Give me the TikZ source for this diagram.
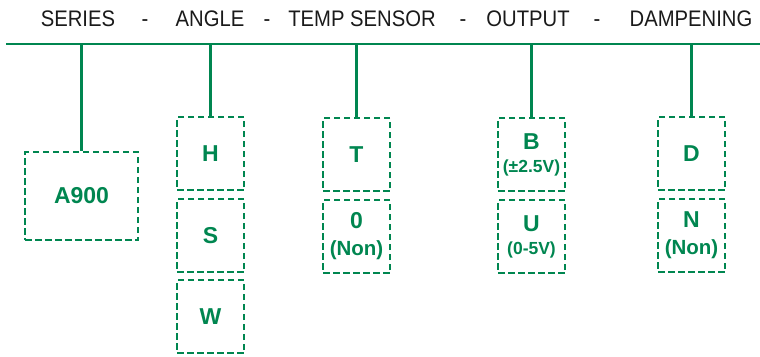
\documentclass[tikz,border=0pt]{standalone}
\usepackage{fontspec}
\setmainfont{Liberation Sans}
\newfontfamily\hdrfont[FakeStretch=0.9]{Liberation Sans}

\definecolor{pgreen}{RGB}{0,134,80}
\definecolor{hdrink}{RGB}{26,26,26}

\newcommand{\subsm}{\fontsize{17.5}{18}\selectfont}
\newcommand{\subbig}{\fontsize{20.5}{22}\selectfont}

\tikzset{
  optbox/.style={draw=pgreen, line width=2.6pt, dash pattern=on 6.5pt off 3.5pt,
    text=pgreen, font=\bfseries\fontsize{23}{24}\selectfont, align=center,
    minimum width=67pt, minimum height=73pt, inner sep=0pt},
  hdr/.style={font=\hdrfont\fontsize{22.5}{24}\selectfont, text=hdrink, anchor=base, inner sep=0pt},
  drop/.style={pgreen, line width=2.4pt},
}

\begin{document}
\begin{tikzpicture}[x=1pt, y=-1pt]
  \useasboundingbox (0,0) rectangle (760,356);

  % --- header: field names and separators ---
  \foreach \x/\n/\t in {78/ser/SERIES, 210/ang/ANGLE, 362/tmp/TEMP SENSOR,
    528/out/OUTPUT, 691/dmp/DAMPENING}
    \node[hdr] (\n) at (\x,26) {\t};
  \foreach \x [count=\i] in {145,267,463,597}
    \node[hdr] (dash\i) at (\x,26) {-};
  \coordinate (hl) at (6,44);
  \coordinate (hr) at (760,44);
  \draw[drop] (hl) -- (hr);

  % --- option boxes (centre x, centre y) ---
  \node[optbox, minimum width=113pt, minimum height=88pt] (a900) at (81.5,196) {A900};
  \node[optbox] (h) at (210.5,153.5) {H};
  \node[optbox] (s) at (210.5,235.5) {S};
  \node[optbox] (w) at (210.5,316.5) {W};
  \node[optbox] (t) at (356.5,154.5) {T};
  \node[optbox] (non) at (356.5,236.5) {0\\[3pt]{\subbig(Non)}};
  \node[optbox] (b) at (531.5,154.5) {B\\[-1pt]{\subsm(±2.5V)}};
  \node[optbox] (u) at (531.5,236.5) {U\\[-1pt]{\subsm(0-5V)}};
  \node[optbox] (d) at (691.5,153.5) {D};
  \node[optbox] (n) at (691.5,235.5) {N\\[3pt]{\subbig(Non)}};

  % --- drops from the header line to the first box of each field ---
  \foreach \b in {a900,h,t,b,d}
    \draw[drop] (hl -| \b.north) -- (\b.north);
\end{tikzpicture}
\end{document}
